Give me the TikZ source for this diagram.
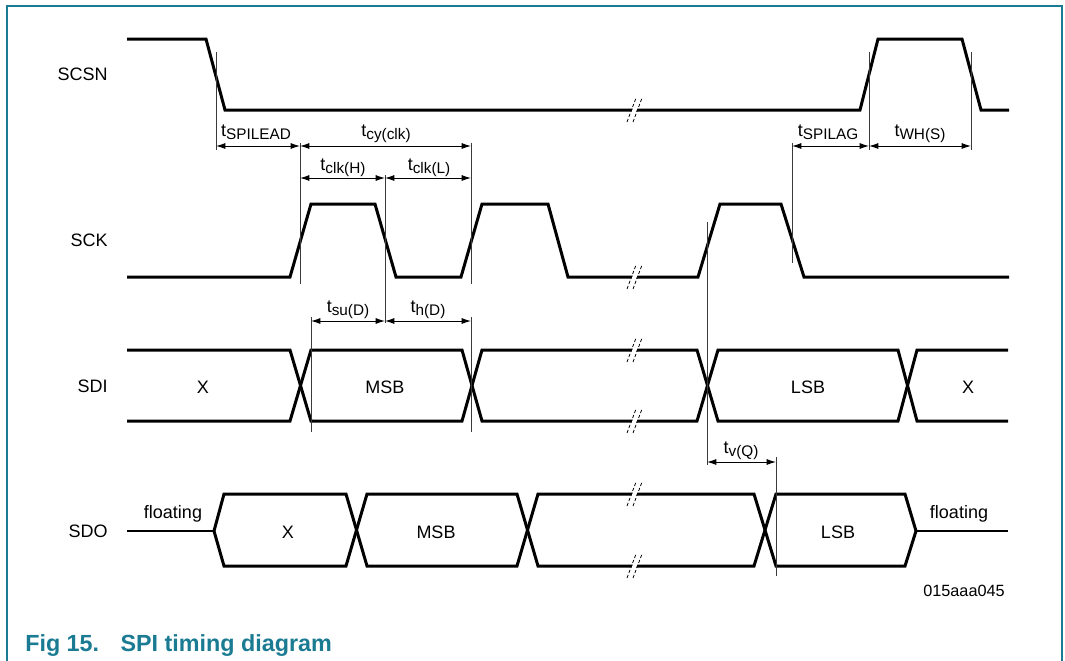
\documentclass[tikz,border=0pt]{standalone}
\usepackage{fontspec}
\setmainfont{Liberation Sans}
\usetikzlibrary{arrows.meta}
\definecolor{clrFrame}{HTML}{1B7B93}
\definecolor{clrGuide}{HTML}{3A3A3A}
\newcommand{\tsub}[1]{t\raisebox{-2.5pt}{\fontsize{11.5}{13}\selectfont #1}}

\begin{document}
\begin{tikzpicture}[x=0.75pt, y=-0.75pt,
  wave/.style={line width=2.25pt, line join=miter},
  floatline/.style={line width=1.8pt},
  guide/.style={draw=clrGuide, line width=0.7pt},
  dim/.style={line width=0.7pt, {Latex[length=7pt,width=4.5pt]}-{Latex[length=7pt,width=4.5pt]}},
  signame/.style={font=\fontsize{13.5}{16}\selectfont, anchor=east, inner sep=0pt},
  buslbl/.style={font=\fontsize{13.5}{16}\selectfont, inner sep=0pt},
  tlbl/.style={font=\fontsize{13.5}{16}\selectfont, anchor=base, inner sep=0pt},
  brk/.pic={
    \draw[white, line width=3.2pt] (-4,12) -- (5,-12);
    \draw[line width=0.6pt, dash pattern=on 2.5pt off 1.5pt] (-7,12) -- (2,-12);
    \draw[line width=0.6pt, dash pattern=on 2.5pt off 1.5pt] (-1,12) -- (8,-12);
  }]
  \useasboundingbox (0,0) rectangle (1065,661);

  % frame and caption
  \draw[clrFrame, line width=1.5pt] (7,661) -- (7,6) -- (1062,6) -- (1062,661);
  \node[font=\fontsize{17.5}{20}\selectfont\bfseries, text=clrFrame, anchor=base west, inner sep=0pt]
    (caption) at (25,651) {Fig 15.\hspace{16pt}SPI timing diagram};
  \node[font=\fontsize{12.2}{14}\selectfont, inner sep=0pt] (figid) at (964,591) {015aaa045};

  % signal names
  \node[signame] (sigSCSN) at (108,74) {SCSN};
  \node[signame] (sigSCK) at (108,240) {SCK};
  \node[signame] (sigSDI) at (108,386) {SDI};
  \node[signame] (sigSDO) at (108,531) {SDO};

  % SCSN
  \draw[wave] (127,39) -- (206,39) -- (225,110) -- (860,110) -- (878,39) -- (962,39)
    -- (981,110) -- (1009,110);
  % SCK
  \draw[wave] (127,277) -- (290,277) -- (311,204) -- (375,204) -- (396,277) -- (461,277)
    -- (482,204) -- (548,204) -- (568,277) -- (698,277) -- (720,204) -- (781,204)
    -- (804,277) -- (1009,277);
  % SDI
  \draw[wave] (127,350) -- (290,350) -- (311,421) -- (462,421) -- (482,350) -- (697,350)
    -- (718,421) -- (898,421) -- (917,350) -- (1008,350);
  \draw[wave] (127,421) -- (290,421) -- (311,350) -- (462,350) -- (482,421) -- (697,421)
    -- (718,350) -- (898,350) -- (917,421) -- (1008,421);
  % SDO
  \draw[floatline] (127,531) -- (214,531);
  \draw[floatline] (916,531) -- (1008,531);
  \draw[wave] (214,531) -- (224,494) -- (346,494) -- (367,566) -- (517,566) -- (538,494)
    -- (754,494) -- (776,566) -- (905,566) -- (916,531);
  \draw[wave] (214,531) -- (224,566) -- (346,566) -- (367,494) -- (517,494) -- (538,566)
    -- (754,566) -- (776,494) -- (905,494) -- (916,531);

  % time breaks
  \pic at (634,110) {brk};
  \pic at (634,277) {brk};
  \pic at (634,350) {brk};
  \pic at (634,421) {brk};
  \pic at (634,494) {brk};
  \pic at (634,566) {brk};

  % bus values
  \node[buslbl] (sdiX1) at (203,387) {X};
  \node[buslbl] (sdiMSB) at (385,387) {MSB};
  \node[buslbl] (sdiLSB) at (808,387) {LSB};
  \node[buslbl] (sdiX2) at (968,387) {X};
  \node[buslbl] (sdoX) at (288,532) {X};
  \node[buslbl] (sdoMSB) at (436,532) {MSB};
  \node[buslbl] (sdoLSB) at (838,532) {LSB};
  \node[buslbl] (fltL) at (173,514) {floating};
  \node[buslbl] (fltR) at (959,514) {floating};

  % guide lines
  \draw[guide] (216,52) -- (216,150);
  \draw[guide] (300,143) -- (300,284);
  \draw[guide] (471,143) -- (471,284);
  \draw[guide] (471,317) -- (471,432);
  \draw[guide] (385,175) -- (385,323);
  \draw[guide] (311,317) -- (311,432);
  \draw[guide] (792,143) -- (792,263);
  \draw[guide] (869,52) -- (869,150);
  \draw[guide] (971,52) -- (971,150);
  \draw[guide] (707,222) -- (707,465);
  \draw[guide] (776,457) -- (776,576);

  % arrow end points
  \coordinate (leadA) at (216,146);
  \coordinate (leadB) at (300,146);
  \coordinate (cycB) at (471,146);
  \coordinate (hiA) at (300,178);
  \coordinate (hiB) at (385,178);
  \coordinate (loB) at (471,178);
  \coordinate (suA) at (311,321);
  \coordinate (suB) at (385,321);
  \coordinate (hdB) at (471,321);
  \coordinate (lagA) at (792,146);
  \coordinate (lagB) at (869,146);
  \coordinate (whB) at (971,146);
  \coordinate (vqA) at (707,462);
  \coordinate (vqB) at (776,462);

  \draw[dim] (leadA) -- (leadB);
  \draw[dim] (leadB) -- (cycB);
  \draw[dim] (hiA) -- (hiB);
  \draw[dim] (hiB) -- (loB);
  \draw[dim] (suA) -- (suB);
  \draw[dim] (suB) -- (hdB);
  \draw[dim] (lagA) -- (lagB);
  \draw[dim] (lagB) -- (whB);
  \draw[dim] (vqA) -- (vqB);

  % timing labels
  \node[tlbl] (tLead) at (256,136) {\tsub{SPILEAD}};
  \node[tlbl] (tCyc) at (386,136) {\tsub{cy(clk)}};
  \node[tlbl] (tHi) at (343,170) {\tsub{clk(H)}};
  \node[tlbl] (tLo) at (429,170) {\tsub{clk(L)}};
  \node[tlbl] (tSu) at (348,312) {\tsub{su(D)}};
  \node[tlbl] (tHd) at (428,312) {\tsub{h(D)}};
  \node[tlbl] (tLag) at (828,136) {\tsub{SPILAG}};
  \node[tlbl] (tWh) at (920,136) {\tsub{WH(S)}};
  \node[tlbl] (tVq) at (741,453) {\tsub{v(Q)}};
\end{tikzpicture}
\end{document}
